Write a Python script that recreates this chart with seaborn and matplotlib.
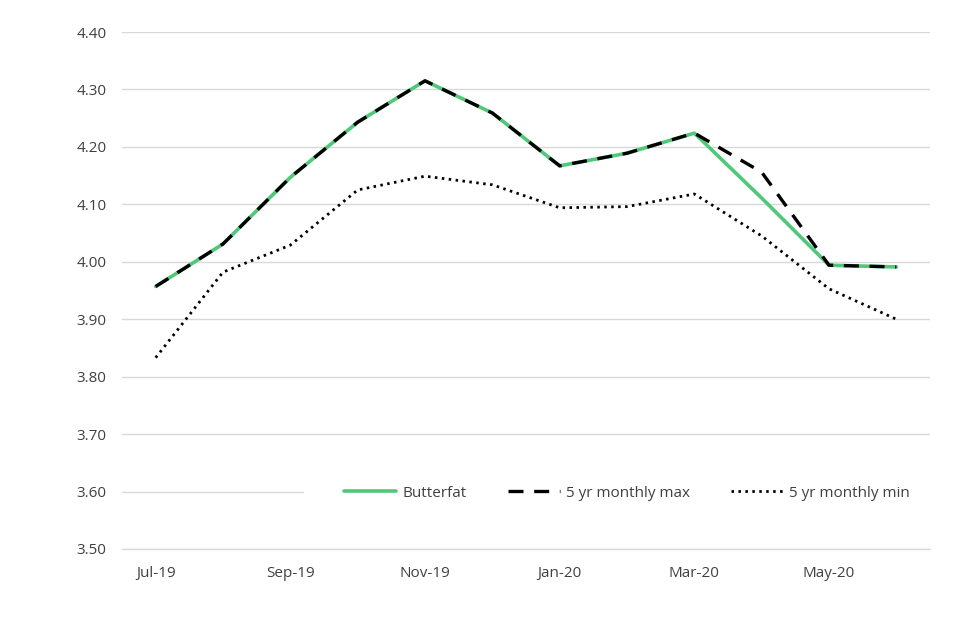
import numpy as np
import pandas as pd
import matplotlib
matplotlib.use('Agg')
import matplotlib.pyplot as plt
import seaborn as sns

months = ['Jul-19', 'Aug-19', 'Sep-19', 'Oct-19', 'Nov-19', 'Dec-19',
          'Jan-20', 'Feb-20', 'Mar-20', 'Apr-20', 'May-20', 'Jun-20']
butterfat = [3.957, 4.031, 4.147, 4.243, 4.315, 4.259, 4.167, 4.189, 4.224, 4.111, 3.994, 3.991]
max_5yr = [3.957, 4.031, 4.147, 4.243, 4.315, 4.259, 4.167, 4.189, 4.224, 4.156, 3.994, 3.991]
min_5yr = [3.833, 3.982, 4.029, 4.125, 4.149, 4.134, 4.094, 4.096, 4.118, 4.045, 3.953, 3.900]
yticks = [3.50, 3.60, 3.70, 3.80, 3.90, 4.00, 4.10, 4.20, 4.30, 4.40]

sns.set_style('white')
plt.rcParams['font.family'] = ['Open Sans', 'DejaVu Sans']
txt = '#404040'
grid = '#d9d9d9'

df = pd.DataFrame({'pos': np.arange(len(months)), 'month': months,
                   'Butterfat': butterfat, 'max': max_5yr, 'min': min_5yr})

fig = plt.figure(figsize=(9.6, 6.4), dpi=100)
ax = fig.add_axes([122/960, 1 - 549/640, 808/960, 517/640])

sns.lineplot(data=df, x='pos', y='Butterfat', ax=ax, color='#4fc87a', linewidth=2.6,
             label='Butterfat', zorder=3)
sns.lineplot(data=df, x='pos', y='max', ax=ax, color='black', linewidth=2.4,
             label='5 yr monthly max', zorder=4)
sns.lineplot(data=df, x='pos', y='min', ax=ax, color='black', linewidth=2.0,
             label='5 yr monthly min', zorder=4)
ax.lines[1].set_dashes([4.5, 3.2])
ax.lines[2].set_dashes([0.9, 1.6])

ax.set_xlim(-0.5, len(months) - 0.5)
ax.set_ylim(yticks[0], yticks[-1])
ax.set_yticks(yticks)
ax.set_yticklabels([f'{v:.2f}' for v in yticks])
ax.yaxis.grid(True, color=grid, linewidth=1)
ax.set_axisbelow(True)

ax.set_xticks(df['pos'][::2])
ax.set_xticklabels(df['month'][::2])
ax.set_xticks(np.arange(-0.5, len(months), 2), minor=True)
ax.tick_params(axis='x', which='major', length=0, pad=12, labelsize=11, labelcolor=txt)
ax.tick_params(axis='x', which='minor', length=4, width=1, color=grid)
ax.tick_params(axis='y', length=0, pad=11, labelsize=11, labelcolor=txt)
ax.set_xlabel('')
ax.set_ylabel('')

for s in ['top', 'right', 'left']:
    ax.spines[s].set_visible(False)
ax.spines['bottom'].set_color(grid)
ax.spines['bottom'].set_linewidth(1)

leg = ax.legend(loc='center', bbox_to_anchor=(0.625, 0.108), ncol=3, frameon=True,
                fancybox=False, facecolor='white', edgecolor='white', framealpha=1,
                fontsize=11, handlelength=3.4, columnspacing=2.7, handletextpad=0.4,
                borderpad=2.6, labelcolor=txt)
leg.get_frame().set_linewidth(0)
leg.set_zorder(5)

fig.savefig('out.png', dpi=100)
